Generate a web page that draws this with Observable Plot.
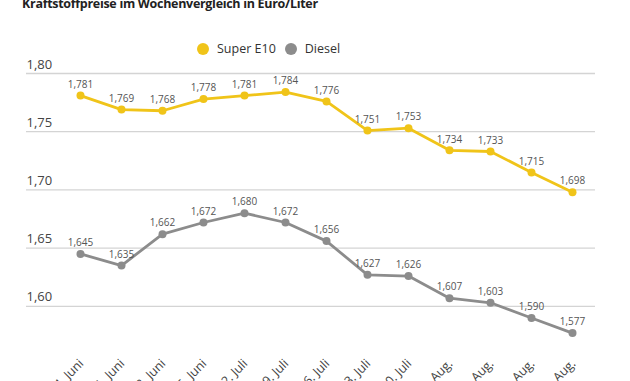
<!DOCTYPE html>
<html>
<head>
<meta charset="utf-8">
<script src="https://cdn.jsdelivr.net/npm/d3@7"></script>
<script src="https://cdn.jsdelivr.net/npm/@observablehq/plot@0.6"></script>
<style>
  html, body { margin: 0; padding: 0; background: #fff; }
  body { width: 630px; height: 381px; position: relative; overflow: hidden; font-family: "Open Sans", "Noto Sans", sans-serif; }
  #title { position: absolute; left: 22px; top: -5px; font-size: 12.5px; font-weight: 700; color: #222; letter-spacing: -0.3px; white-space: nowrap; }
  #legend { position: absolute; top: 40px; left: 197px; display: flex; align-items: center; font-size: 12.5px; color: #333; white-space: nowrap; }
  #legend .sw { width: 12px; height: 12px; border-radius: 50%; display: inline-block; margin-right: 8px; }
  #legend .item { display: flex; align-items: center; margin-right: 9px; }
  #chart { position: absolute; left: 0; top: 0; }
</style>
</head>
<body>
<div id="chart"></div>
<div id="title">Kraftstoffpreise im Wochenvergleich in Euro/Liter</div>
<div id="legend"></div>
<script>
const weeks = ["4. Juni","11. Juni","18. Juni","25. Juni","2. Juli","9. Juli","16. Juli","23. Juli","30. Juli","6. Aug.","13. Aug.","20. Aug.","27. Aug."];
const superE10 = [1.781,1.769,1.768,1.778,1.781,1.784,1.776,1.751,1.753,1.734,1.733,1.715,1.698];
const diesel = [1.645,1.635,1.662,1.672,1.680,1.672,1.656,1.627,1.626,1.607,1.603,1.590,1.577];
const seriesNames = ["Super E10","Diesel"];
const seriesColors = ["#f0c419","#8c8c8c"];
const yTicks = [1.60,1.65,1.70,1.75,1.80];

const rows = [];
weeks.forEach((w,i) => {
  rows.push({week: w, series: seriesNames[0], value: superE10[i]});
  rows.push({week: w, series: seriesNames[1], value: diesel[i]});
});
const fmt = (v, d) => v.toFixed(d).replace(".", ",");

const leg = document.getElementById("legend");
seriesNames.forEach((n,i) => {
  const it = document.createElement("span");
  it.className = "item";
  it.innerHTML = `<span class="sw" style="background:${seriesColors[i]}"></span>${n}`;
  leg.appendChild(it);
});

const chart = Plot.plot({
  width: 630,
  height: 381,
  marginLeft: 75,
  marginRight: 53,
  marginTop: 73,
  marginBottom: 17,
  style: {fontFamily: "'Open Sans', 'Noto Sans', sans-serif", background: "#fff"},
  x: {type: "point", domain: weeks, padding: 0},
  y: {domain: [1.55, 1.80], axis: null},
  color: {domain: seriesNames, range: seriesColors},
  marks: [
    Plot.ruleY(yTicks, {stroke: "#d4d4d4", strokeWidth: 1.3, insetLeft: -49, insetRight: -18}),
    Plot.text(yTicks, {y: d => d, text: d => fmt(d, 2), frameAnchor: "left", textAnchor: "start", dx: -49, dy: -9, fontSize: 13, fill: "#444"}),
    Plot.line(rows, {x: "week", y: "value", z: "series", stroke: "series", strokeWidth: 2.8}),
    Plot.dot(rows, {x: "week", y: "value", fill: "series", r: 4}),
    Plot.text(rows, {x: "week", y: "value", text: d => fmt(d.value, 3), dy: -11, fontSize: 10, fill: "#555"}),
    Plot.axisX({tickRotate: -45, tickSize: 0, tickPadding: 0, dy: -3, dx: 1, fontSize: 12.5, color: "#444", label: null})
  ]
});
document.getElementById("chart").appendChild(chart);
</script>
</body>
</html>
